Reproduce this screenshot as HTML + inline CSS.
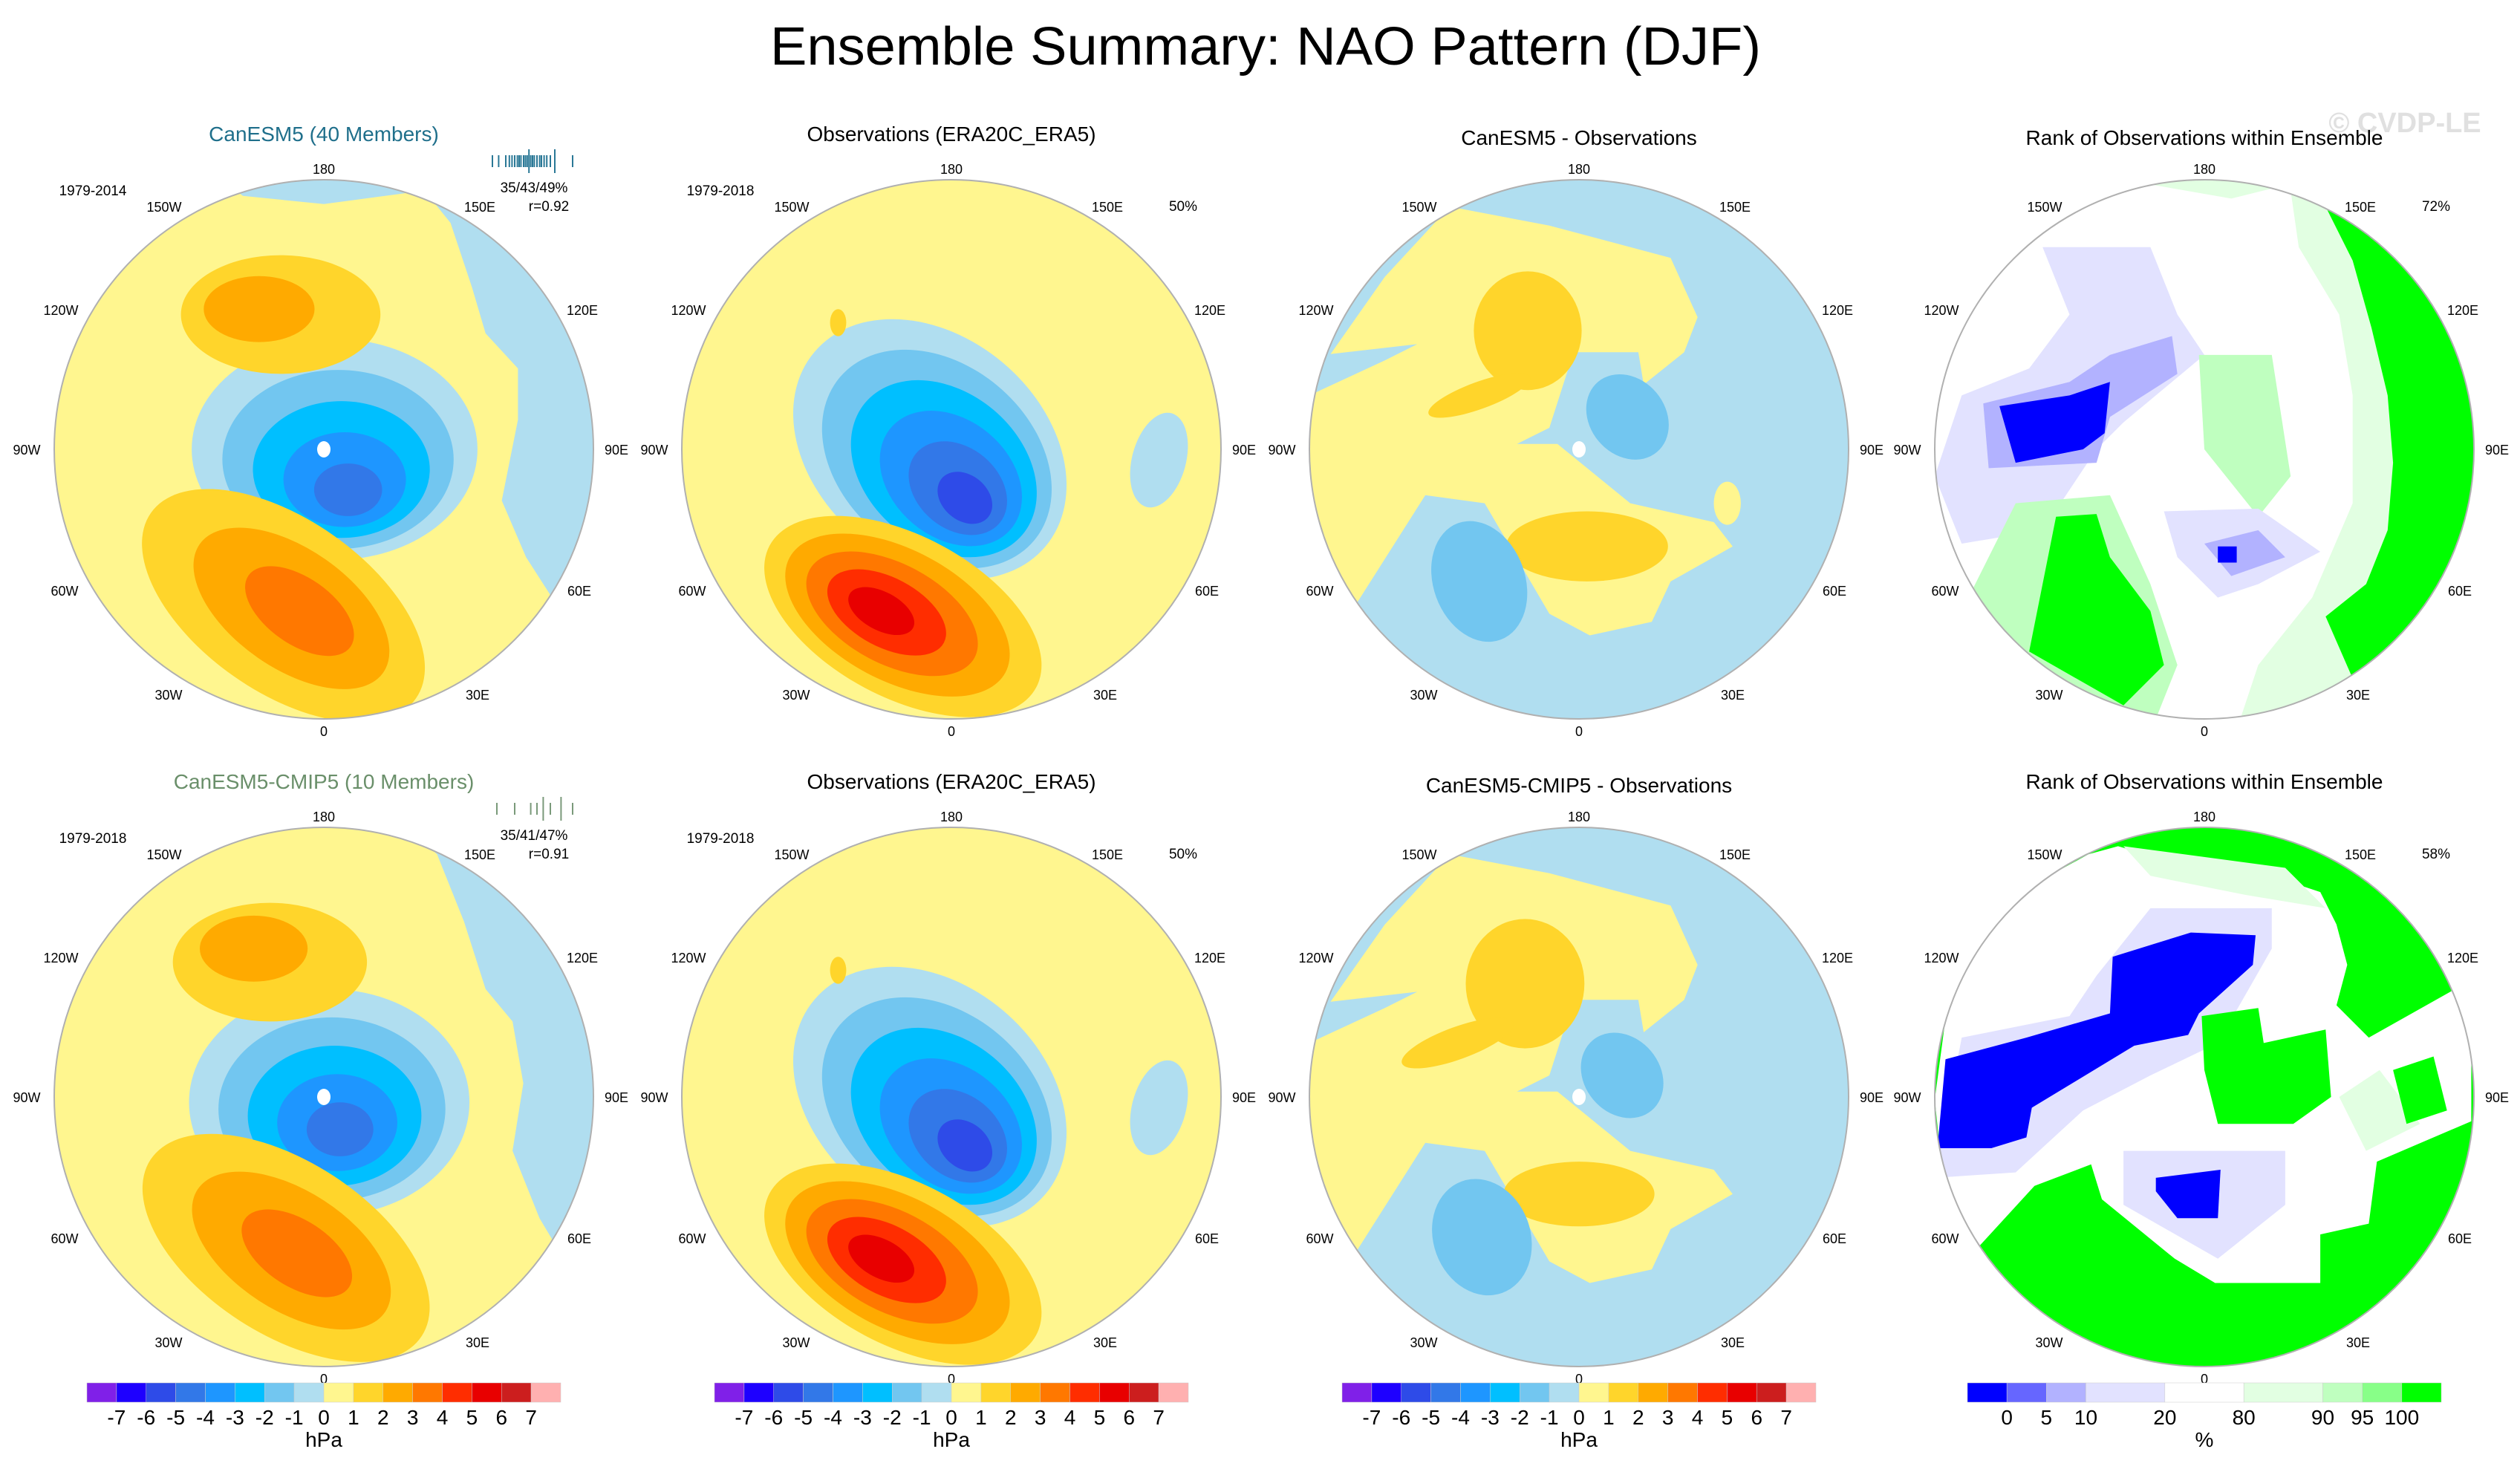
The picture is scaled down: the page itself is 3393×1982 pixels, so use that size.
<!DOCTYPE html>
<html><head><meta charset="utf-8">
<style>
html,body{margin:0;padding:0;background:#fff;}
svg{display:block;font-family:"Liberation Sans",Arial,sans-serif;}
</style></head>
<body>
<svg id="fig" xmlns="http://www.w3.org/2000/svg" width="3393" height="1982" viewBox="0 0 3393 1982">
<rect width="3393" height="1982" fill="#fff"/>
<text x="1704" y="87" font-size="72" text-anchor="middle" textLength="1334" lengthAdjust="spacingAndGlyphs">Ensemble Summary: NAO Pattern (DJF)</text>
<text x="3238" y="178" font-size="38" font-weight="bold" fill="#e0e0e0" text-anchor="middle">© CVDP-LE</text>
<g id="panels"></g>
</svg>
<script>
// ---- colour scales / legend data ----
const hpaColors = ["#8020e8","#1e00ff","#2e4be8","#3278e8","#1e96ff","#00bfff","#72c6f0","#b0def0","#fff68f","#ffd52b","#ffaa00","#ff7800","#ff2d00","#e80000","#cc1e1e","#ffb0b0"];
const hpaLabels = ["-7","-6","-5","-4","-3","-2","-1","0","1","2","3","4","5","6","7"];
const rankColors = ["#0000ff","#6666ff","#b2b2ff","#e2e2ff","#ffffff","#e2ffe2","#bfffbf","#88ff88","#00ff00"];
const rankUnits = [1,1,1,2,2,2,1,1,1];
const rankLabels = ["0","5","10","20","80","90","95","100"];
const lonLabels = ["180","150W","150E","120W","120E","90W","90E","60W","60E","30W","30E","0"];
const lonOffX = [0,-215,210,-354,348,-400,394,-349,344,-209,207,0];
const lonOffY = [-378,-327,-327,-188,-188,0,0,190,190,330,330,379];

// ensemble member values (barcode)
const members1 = [0.05,0.12,0.2,0.24,0.27,0.3,0.33,0.35,0.37,0.4,0.42,0.44,0.46,0.48,0.5,0.52,0.55,0.58,0.6,0.63,0.66,0.7,0.75,0.95];
const members2 = [0.1,0.3,0.48,0.55,0.62,0.7,0.82,0.95];

// ---- features [cx,cy,rx,ry,rot,nShades,innerCx,innerCy,sign] ----
const featA = [[0.04,0.0,0.53,0.41,0,5,0.09,0.15,-1],[-0.15,0.58,0.6,0.32,35,3,-0.09,0.6,1],[-0.16,-0.5,0.37,0.22,0,2,-0.24,-0.52,1]];
const polyA = [[7,[[0.3,-1.05],[0.47,-0.84],[0.55,-0.6],[0.6,-0.43],[0.72,-0.3],[0.72,-0.11],[0.66,0.19],[0.75,0.4],[0.84,0.54],[1.1,0.5],[1.1,-1.1]]],[7,[[-0.45,-1.05],[-0.3,-0.94],[0,-0.91],[0.3,-0.95],[0.45,-1.05]]]];
const featB = [[-0.08,0.0,0.56,0.42,40,6,0.05,0.18,-1],[-0.18,0.62,0.56,0.3,28,5,-0.26,0.6,1],[0.77,0.04,0.1,0.18,15,1,0.77,0.04,-1],[-0.42,-0.47,0.03,0.05,0,1,-0.42,-0.47,1]];
const polyB = [];
const featC = [[-0.19,-0.44,0.2,0.22,0,1,-0.19,-0.44,1],[-0.37,-0.2,0.2,0.05,-20,1,-0.37,-0.2,1],[0.03,0.36,0.3,0.13,0,1,0.03,0.36,1],[-0.37,0.49,0.17,0.23,-20,1,-0.37,0.49,-2],[0.18,-0.12,0.14,0.17,-40,1,0.18,-0.12,-2],[0.55,0.2,0.05,0.08,0,1,0.55,0.2,3]];
const polyC = [[8,[[-0.98,-0.27],[-0.72,-0.64],[-0.48,-0.9],[-0.11,-0.83],[0.34,-0.71],[0.44,-0.49],[0.39,-0.36],[0.24,-0.24],[0.22,-0.36],[-0.02,-0.36],[-0.11,-0.08],[-0.23,-0.02],[-0.08,-0.02],[0.19,0.2],[0.5,0.27],[0.57,0.36],[0.34,0.49],[0.27,0.64],[0.04,0.69],[-0.11,0.61],[-0.35,0.2],[-0.57,0.17],[-0.83,0.58],[-0.98,0.27],[-1.05,-0.08]]],[7,[[-1,-0.2],[-0.72,-0.33],[-0.6,-0.39],[-0.95,-0.35]]]];
const featA2 = [[0.02,0.02,0.52,0.42,0,5,0.06,0.12,-1],[-0.14,0.56,0.6,0.32,33,3,-0.1,0.58,1],[-0.2,-0.5,0.36,0.22,0,2,-0.26,-0.55,1]];
const polyA2 = [[7,[[0.25,-1.05],[0.42,-0.9],[0.52,-0.65],[0.6,-0.4],[0.7,-0.28],[0.74,-0.05],[0.7,0.2],[0.8,0.45],[0.86,0.55],[1.1,0.5],[1.1,-1.1]]]];
const featC2 = [[-0.2,-0.42,0.22,0.24,0,1,-0.2,-0.42,1],[-0.45,-0.2,0.22,0.06,-20,1,-0.45,-0.2,1],[0.0,0.36,0.28,0.12,0,1,0.0,0.36,1],[-0.36,0.52,0.18,0.22,-20,1,-0.36,0.52,-2],[0.16,-0.08,0.14,0.17,-40,1,0.16,-0.08,-2]];
const rankA = [[5,[[0.3,-1.1],[0.35,-0.75],[0.5,-0.5],[0.55,-0.2],[0.55,0.2],[0.4,0.55],[0.2,0.8],[0.1,1.1],[1.2,1.1],[1.2,-1.1]]],[8,[[0.45,-0.9],[0.55,-0.7],[0.62,-0.45],[0.68,-0.2],[0.7,0.05],[0.68,0.3],[0.6,0.5],[0.45,0.62],[0.55,0.85],[1.2,0.5],[1.2,-0.9]]],[3,[[-0.6,-0.75],[-0.2,-0.75],[-0.1,-0.5],[0.0,-0.35],[-0.3,-0.1],[-0.4,0.0],[-0.6,0.3],[-0.9,0.35],[-1.0,0.1],[-0.9,-0.2],[-0.65,-0.3],[-0.5,-0.5]]],[2,[[-0.82,-0.17],[-0.5,-0.25],[-0.35,-0.35],[-0.12,-0.42],[-0.1,-0.28],[-0.35,-0.12],[-0.4,0.05],[-0.8,0.07]]],[0,[[-0.76,-0.16],[-0.5,-0.2],[-0.35,-0.25],[-0.37,-0.06],[-0.45,-0.0],[-0.7,0.05]]],[6,[[-0.02,-0.35],[0.25,-0.35],[0.32,0.1],[0.2,0.25],[0.0,0.0]]],[3,[[-0.15,0.23],[0.2,0.22],[0.43,0.38],[0.2,0.5],[0.05,0.55],[-0.1,0.4]]],[2,[[-0.0,0.35],[0.2,0.3],[0.3,0.4],[0.1,0.47]]],[0,[[0.05,0.36],[0.12,0.36],[0.12,0.42],[0.05,0.42]]],[6,[[-0.7,0.2],[-0.35,0.17],[-0.2,0.5],[-0.1,0.8],[-0.2,1.05],[-0.7,0.95],[-0.9,0.6]]],[8,[[-0.55,0.25],[-0.4,0.24],[-0.35,0.4],[-0.2,0.6],[-0.15,0.8],[-0.3,0.95],[-0.65,0.75],[-0.6,0.5]]],[5,[[-0.3,-1.0],[0.1,-0.93],[0.3,-0.98],[0.3,-1.1],[-0.3,-1.1]]]];
const rankB = [[8,[[-1.2,-1.2],[1.2,-1.2],[1.2,1.2],[-1.2,1.2]]],[4,[[-0.96,-0.29],[-0.85,-0.67],[-0.43,-0.9],[-0.32,-0.93],[-0.08,-0.86],[0.34,-0.79],[0.43,-0.76],[0.49,-0.64],[0.53,-0.49],[0.49,-0.34],[0.61,-0.22],[0.93,-0.4],[0.99,-0.22],[0.99,0.09],[0.64,0.24],[0.61,0.47],[0.43,0.51],[0.43,0.69],[0.04,0.69],[-0.11,0.6],[-0.38,0.38],[-0.42,0.25],[-0.63,0.33],[-0.85,0.57],[-0.96,0.39],[-1.0,0.01]]],[5,[[-0.3,-0.93],[0.3,-0.85],[0.45,-0.7],[0.15,-0.75],[-0.2,-0.82]]],[3,[[-1.0,0.3],[-0.7,0.28],[-0.45,0.05],[-0.2,-0.08],[0.05,-0.2],[0.25,-0.55],[0.25,-0.7],[-0.2,-0.7],[-0.4,-0.45],[-0.5,-0.3],[-0.9,-0.22]]],[0,[[-0.99,0.19],[-0.96,-0.14],[-0.66,-0.22],[-0.35,-0.31],[-0.34,-0.52],[-0.05,-0.61],[0.19,-0.6],[0.18,-0.49],[-0.02,-0.31],[-0.06,-0.23],[-0.26,-0.19],[-0.64,0.04],[-0.66,0.15],[-0.79,0.19]]],[3,[[-0.3,0.2],[0.3,0.2],[0.3,0.4],[0.05,0.6],[-0.3,0.4]]],[0,[[-0.18,0.3],[0.06,0.27],[0.05,0.45],[-0.1,0.45],[-0.18,0.35]]],[8,[[-0.01,-0.3],[0.2,-0.33],[0.22,-0.2],[0.45,-0.25],[0.47,0.0],[0.33,0.1],[0.05,0.1],[0.0,-0.1]]],[5,[[0.5,0.0],[0.65,-0.1],[0.8,0.1],[0.6,0.2]]],[8,[[0.7,-0.1],[0.85,-0.15],[0.9,0.05],[0.75,0.1]]]];

const panels = [
 {col:0,row:0,title:"CanESM5 (40 Members)",tcol:"#1f6f8b",years:"1979-2014",st1:"35/43/49%",st2:"r=0.92",feat:featA,poly:polyA,bg:8,dot:true,bars:members1,bcol:"#2a7896",kind:"hpa"},
 {col:1,row:0,title:"Observations (ERA20C_ERA5)",tcol:"#000",years:"1979-2018",st1:"",st2:"50%",feat:featB,poly:polyB,bg:8,kind:"hpa"},
 {col:2,row:0,title:"CanESM5 - Observations",tcol:"#000",years:"",st1:"",st2:"",feat:featC,poly:polyC,bg:7,dot:true,kind:"hpa",tdy:5},
 {col:3,row:0,title:"Rank of Observations within Ensemble",tcol:"#000",years:"",st1:"",st2:"72%",poly:rankA,bg:4,kind:"rank",tdy:5},
 {col:0,row:1,title:"CanESM5-CMIP5 (10 Members)",tcol:"#6a8f6a",years:"1979-2018",st1:"35/41/47%",st2:"r=0.91",feat:featA2,poly:polyA2,bg:8,dot:true,bars:members2,bcol:"#7a9a7a",kind:"hpa"},
 {col:1,row:1,title:"Observations (ERA20C_ERA5)",tcol:"#000",years:"1979-2018",st1:"",st2:"50%",feat:featB,poly:polyB,bg:8,kind:"hpa"},
 {col:2,row:1,title:"CanESM5-CMIP5 - Observations",tcol:"#000",years:"",st1:"",st2:"",feat:featC2,poly:polyC,bg:7,dot:true,kind:"hpa",tdy:5},
 {col:3,row:1,title:"Rank of Observations within Ensemble",tcol:"#000",years:"",st1:"",st2:"58%",poly:rankB,bg:4,kind:"rank"}
];

const NS="http://www.w3.org/2000/svg";
const root=document.getElementById('panels');
const colX=[436,1281,2126,2968], rowY=[605,1477], R=363;
function mk(tag,attrs,parent){const e=document.createElementNS(NS,tag);for(const k in attrs)e.setAttribute(k,attrs[k]);parent.appendChild(e);return e;}

panels.forEach((p,i)=>{
  const cx=colX[p.col], cy=rowY[p.row];
  const pal = p.kind==="rank"?rankColors:hpaColors;
  const g=mk('g',{},root);
  
  
  const cp=mk('clipPath',{id:'clip'+i},g);
  mk('circle',{cx:cx,cy:cy,r:R},cp);
  const m=mk('g',{'clip-path':'url(#clip'+i+')'},g);
  
  
  mk('rect',{x:cx-R,y:cy-R,width:2*R,height:2*R,fill:pal[p.bg]},m);
  (p.poly||[]).forEach(pl=>{
    const pts=pl[1].map(q=>(cx+q[0]*R).toFixed(1)+','+(cy+q[1]*R).toFixed(1)).join(' ');
    const e=mk('polygon',{points:pts,fill:pal[pl[0]]},m);
    
    
  });
  (p.feat||[]).forEach(f=>{
    const [fx,fy,rx,ry,rot,n,ix,iy,sg]=f;
    for(let k=0;k<n;k++){
      const s=1-k/(n+0.25), t=n>1?k/(n-1):0;
      const ex=cx+(fx+(ix-fx)*t)*R, ey=cy+(fy+(iy-fy)*t)*R;
      let ci;
      if(sg===-1) ci=7-k; else if(sg===1) ci=9+k; else if(sg===-2) ci=6-k; else ci=8+k;
      const e=mk('ellipse',{cx:ex.toFixed(1),cy:ey.toFixed(1),rx:(rx*R*s).toFixed(1),ry:(ry*R*s).toFixed(1),transform:'rotate('+rot+' '+ex.toFixed(1)+' '+ey.toFixed(1)+')',fill:pal[ci]},m);
      
      
    }
  });
  const ring=mk('circle',{cx:cx,cy:cy,r:R,fill:'none',stroke:'#b0b0b0','stroke-width':2},g);
  
  
  if(p.dot){const d=mk('ellipse',{cx:cx,cy:cy,rx:9,ry:11,fill:'#fff'},g);
    
    }
  const ty=(p.row===0?190:1062)+(p.tdy||0);
  const tt=mk('text',{x:cx,y:ty,'font-size':28,'text-anchor':'middle',fill:p.tcol},g);
  tt.textContent=p.title;
  
  
  lonLabels.forEach((l,j)=>{
    const e=mk('text',{x:cx+lonOffX[j],y:cy+lonOffY[j]+7,'font-size':18,'text-anchor':'middle'},g);
    e.textContent=l;
    
    
  });
  if(p.years){const e=mk('text',{x:cx-311,y:cy-342,'font-size':19,'text-anchor':'middle'},g);e.textContent=p.years;
    
    }
  if(p.st1){const e=mk('text',{x:cx+283,y:cy-346,'font-size':19,'text-anchor':'middle'},g);e.textContent=p.st1;
    
    }
  if(p.st2){const e=mk('text',{x:cx+(p.st1?303:312),y:cy-321,'font-size':19,'text-anchor':'middle'},g);e.textContent=p.st2;
    
    }
  if(p.bars){
    const bx0=cx+221, bw=120, by=cy-388;
    p.bars.forEach((v,j)=>{
      const x=bx0+v*bw, tall=(j===Math.floor(p.bars.length/2)||j===p.bars.length-2);
      const e=mk('line',{x1:x,x2:x,y1:by-(tall?16:8),y2:by+(tall?16:8),stroke:p.bcol,'stroke-width':2},g);
      
      
    });
  }
  if(p.row===1){
    const cb=mk('g',{},g);
    
    
    const x0=cx-319, W=638, y0=1862, H=26;
    if(p.kind==="hpa"){
      const bw=W/hpaColors.length;
      hpaColors.forEach((c,j)=>{const e=mk('rect',{x:x0+j*bw,y:y0,width:bw,height:H,fill:c,stroke:'#ccc','stroke-width':0.5},cb);
        
        });
      hpaLabels.forEach((l,j)=>{const e=mk('text',{x:x0+(j+1)*bw,y:1918,'font-size':28,'text-anchor':'middle'},cb);e.textContent=l;
        
        });
      const u=mk('text',{x:cx,y:1948,'font-size':28,'text-anchor':'middle'},cb);u.textContent='hPa';
      
      
    } else {
      const tot=rankUnits.reduce((a,b)=>a+b,0), uw=W/tot; let acc=0;
      rankColors.forEach((c,j)=>{const e=mk('rect',{x:x0+acc*uw,y:y0,width:rankUnits[j]*uw,height:H,fill:c,stroke:'#ccc','stroke-width':0.5},cb);
        
        
        acc+=rankUnits[j];
        if(j<rankLabels.length){const t=mk('text',{x:x0+acc*uw,y:1918,'font-size':28,'text-anchor':'middle'},cb);t.textContent=rankLabels[j];
          
          }
      });
      const u=mk('text',{x:cx,y:1948,'font-size':28,'text-anchor':'middle'},cb);u.textContent='%';
      
      
    }
  }
});
</script>
</body></html>
